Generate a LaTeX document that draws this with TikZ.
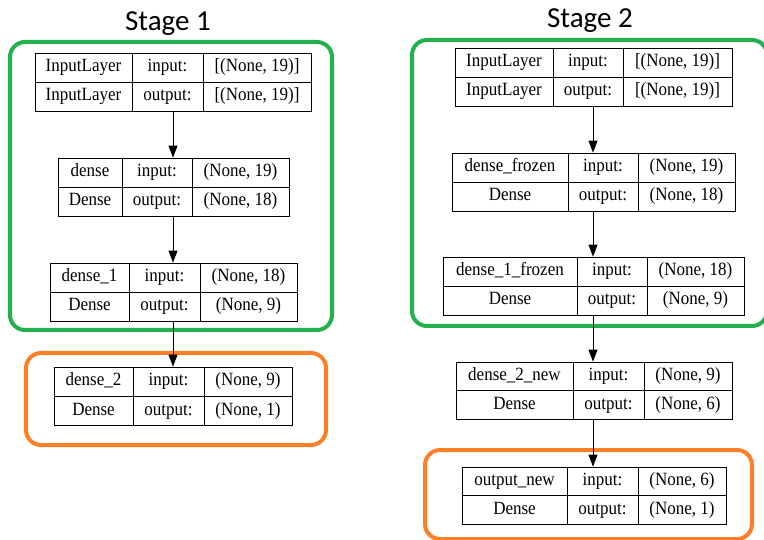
\documentclass[tikz,border=0pt]{standalone}
\usepackage{fontspec}
\usepackage{graphicx}
\setmainfont{Liberation Serif}
\newfontfamily\titlefont{Carlito}
\usetikzlibrary{fit,arrows.meta}

\definecolor{stagegreen}{RGB}{34,177,76}
\definecolor{stageorange}{RGB}{255,127,39}

\tikzset{
  cellline/.style={draw=black, line width=0.8pt},
  tablebox/.style={cellline, inner sep=0pt},
  celltext/.style={inner sep=0pt, font=\fontsize{17}{17}\selectfont,
                   text height=13pt, text depth=4pt},
  frozenframe/.style={draw=stagegreen, line width=4pt, rounded corners=15pt},
  trainframe/.style={draw=stageorange, line width=4pt, rounded corners=15pt},
  flow/.style={draw=black, line width=0.9pt, -{Triangle[length=12pt,width=9pt]}},
  stagetitle/.style={inner sep=0pt, anchor=base, font=\titlefont\fontsize{29}{29}\selectfont}
}

% cell text, slightly taller than the plain face
\newcommand\celltxt[1]{\scalebox{1}[1.1]{#1}}

% #1 name, #2..#5 column edges, #6 top, #7 bottom
\newcommand\layerbox[7]{%
  \node[tablebox, fit={(#2,#6) (#5,#7)}] (#1) {};
  \draw[cellline] (#3,#6) -- (#3,#7);
  \draw[cellline] (#4,#6) -- (#4,#7);
  \draw[cellline] (#2,{(#6+#7)/2}) -- (#5,{(#6+#7)/2});
  \coordinate (#1-a1) at ({(#2+#3)/2},{(3*#6+#7)/4});
  \coordinate (#1-b1) at ({(#3+#4)/2},{(3*#6+#7)/4});
  \coordinate (#1-c1) at ({(#4+#5)/2},{(3*#6+#7)/4});
  \coordinate (#1-a2) at ({(#2+#3)/2},{(#6+3*#7)/4});
  \coordinate (#1-b2) at ({(#3+#4)/2},{(#6+3*#7)/4});
  \coordinate (#1-c2) at ({(#4+#5)/2},{(#6+3*#7)/4});
}
% #1 name, #2 layer name, #3 layer type, #4 input shape, #5 output shape
\newcommand\layerlabels[5]{%
  \node[celltext] (#1-name) at (#1-a1) {\celltxt{#2}};
  \node[celltext] (#1-type) at (#1-a2) {\celltxt{#3}};
  \node[celltext] (#1-in)   at (#1-b1) {\celltxt{input:}};
  \node[celltext] (#1-out)  at (#1-b2) {\celltxt{output:}};
  \node[celltext] (#1-ins)  at (#1-c1) {\celltxt{#4}};
  \node[celltext] (#1-outs) at (#1-c2) {\celltxt{#5}};
}

\begin{document}
\begin{tikzpicture}[x=1pt, y=-1pt]
  \useasboundingbox (0,0) rectangle (764,540);
  \clip (0,0) rectangle (764,540);
  \fill[white] (0,0) rectangle (764,540);

  % titles
  \node[stagetitle] (title1) at (168,31) {Stage 1};
  \node[stagetitle] (title2) at (590,28) {Stage 2};

  % stage 1 frames
  \draw[frozenframe] (10,42) rectangle (332,330);
  \draw[trainframe] (26,353) rectangle (326,445);

  % stage 2 frames
  \draw[frozenframe] (412,40) rectangle (767,326);
  \draw[trainframe] (425,450) rectangle (752,539);

  % stage 1 layers
  \layerbox{s1in}{35}{132}{203}{311}{53}{111}
  \layerlabels{s1in}{InputLayer}{InputLayer}{[(None, 19)]}{[(None, 19)]}
  \layerbox{s1d0}{58}{122}{192}{289}{158}{216}
  \layerlabels{s1d0}{dense}{Dense}{(None, 19)}{(None, 18)}
  \layerbox{s1d1}{50}{129}{200}{297}{263}{321}
  \layerlabels{s1d1}{dense\_1}{Dense}{(None, 18)}{(None, 9)}
  \layerbox{s1d2}{54}{133}{204}{292}{367}{425}
  \layerlabels{s1d2}{dense\_2}{Dense}{(None, 9)}{(None, 1)}

  % stage 2 layers
  \layerbox{s2in}{455}{553}{623}{732}{48}{106}
  \layerlabels{s2in}{InputLayer}{InputLayer}{[(None, 19)]}{[(None, 19)]}
  \layerbox{s2d0}{452}{568}{638}{735}{153}{211}
  \layerlabels{s2d0}{dense\_frozen}{Dense}{(None, 19)}{(None, 18)}
  \layerbox{s2d1}{443}{577}{647}{744}{257}{315}
  \layerlabels{s2d1}{dense\_1\_frozen}{Dense}{(None, 18)}{(None, 9)}
  \layerbox{s2d2}{456}{573}{644}{732}{362}{419}
  \layerlabels{s2d2}{dense\_2\_new}{Dense}{(None, 9)}{(None, 6)}
  \layerbox{s2out}{462}{567}{638}{726}{467}{524}
  \layerlabels{s2out}{output\_new}{Dense}{(None, 6)}{(None, 1)}

  % stage 1 connectors
  \coordinate (s1x) at (173,0);
  \draw[flow] (s1x |- s1in.south) -- (s1x |- s1d0.north);
  \draw[flow] (s1x |- s1d0.south) -- (s1x |- s1d1.north);
  \draw[flow] (s1x |- s1d1.south) -- (s1x |- s1d2.north);

  % stage 2 connectors
  \coordinate (s2x) at (593,0);
  \draw[flow] (s2x |- s2in.south) -- (s2x |- s2d0.north);
  \draw[flow] (s2x |- s2d0.south) -- (s2x |- s2d1.north);
  \draw[flow] (s2x |- s2d1.south) -- (s2x |- s2d2.north);
  \draw[flow] (s2x |- s2d2.south) -- (s2x |- s2out.north);
\end{tikzpicture}
\end{document}
